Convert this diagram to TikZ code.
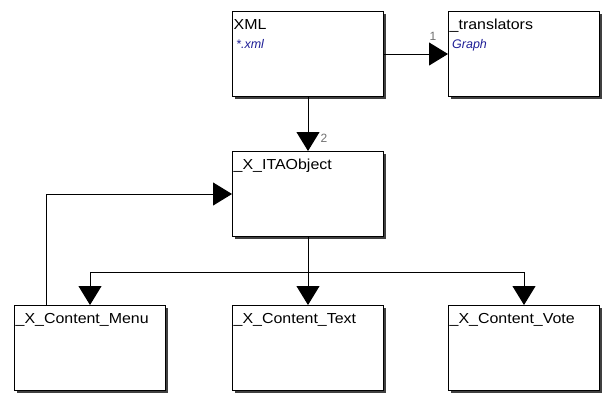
\documentclass[tikz,border=0pt]{standalone}
\usepackage{fontspec}
\setmainfont{Liberation Sans}
\newfontfamily\widefont[FakeStretch=1.1]{Liberation Sans}
\usetikzlibrary{arrows.meta,shadows,calc}
\definecolor{tblue}{HTML}{1E1E96}
\definecolor{lgray}{HTML}{707070}
\tikzset{
  box/.style={draw, line width=1pt, fill=white, minimum width=151pt, minimum height=85pt,
    inner sep=0pt, anchor=north west,
    drop shadow={shadow xshift=2pt, shadow yshift=-2pt, fill=black!75, opacity=1}},
  title/.style={anchor=base west, inner sep=0pt, font=\widefont\fontsize{14.5}{17}\selectfont},
  sub/.style={anchor=base west, inner sep=0pt, text=tblue, font=\fontsize{12.5}{15}\selectfont\itshape},
  num/.style={inner sep=0pt, text=lgray, font=\fontsize{12}{14}\selectfont},
  conn/.style={line width=1pt, -{Triangle[length=19pt,width=23pt]}},
}
\begin{document}
\begin{tikzpicture}[x=1pt,y=-1pt]
\useasboundingbox (0,0) rectangle (603,392);
\node[box] (xml) at (232,11) {};
\node[box] (trans) at (448,11) {};
\node[box] (ita) at (232,151) {};
\node[box] (menu) at (14,305) {};
\node[box] (text) at (232,305) {};
\node[box] (vote) at (448,305) {};

\node[title] (txml) at ($(xml.north west)+(1.5,18)$) {XML};
\node[sub] (sxml) at ($(xml.north west)+(4,37)$) {*.xml};
\node[title] (ttrans) at ($(trans.north west)+(1.5,18)$) {\_translators};
\node[sub] (strans) at ($(trans.north west)+(4,37)$) {Graph};
\node[title] (tita) at ($(ita.north west)+(1.5,18)$) {\_X\_ITAObject};
\node[title] (tmenu) at ($(menu.north west)+(1.5,18)$) {\_X\_Content\_Menu};
\node[title] (ttext) at ($(text.north west)+(1.5,18)$) {\_X\_Content\_Text};
\node[title] (tvote) at ($(vote.north west)+(1.5,18)$) {\_X\_Content\_Vote};

\draw[conn] (xml.east) -- (trans.west);
\draw[conn] (xml.south) -- (ita.north);
\node[num] (n1) at (433,36) {1};
\node[num] (n2) at (324,138) {2};

\draw[line width=1pt] (ita.south) -- ($(ita.south)+(0,35)$) coordinate (bus);
\draw[conn] (bus) -| (menu.north);
\draw[conn] (bus) -| (vote.north);
\draw[conn] (bus) -- (text.north);
\draw[conn] ($(menu.north west)+(32,0)$) coordinate (fb) |- (ita.west);
\end{tikzpicture}
\end{document}
